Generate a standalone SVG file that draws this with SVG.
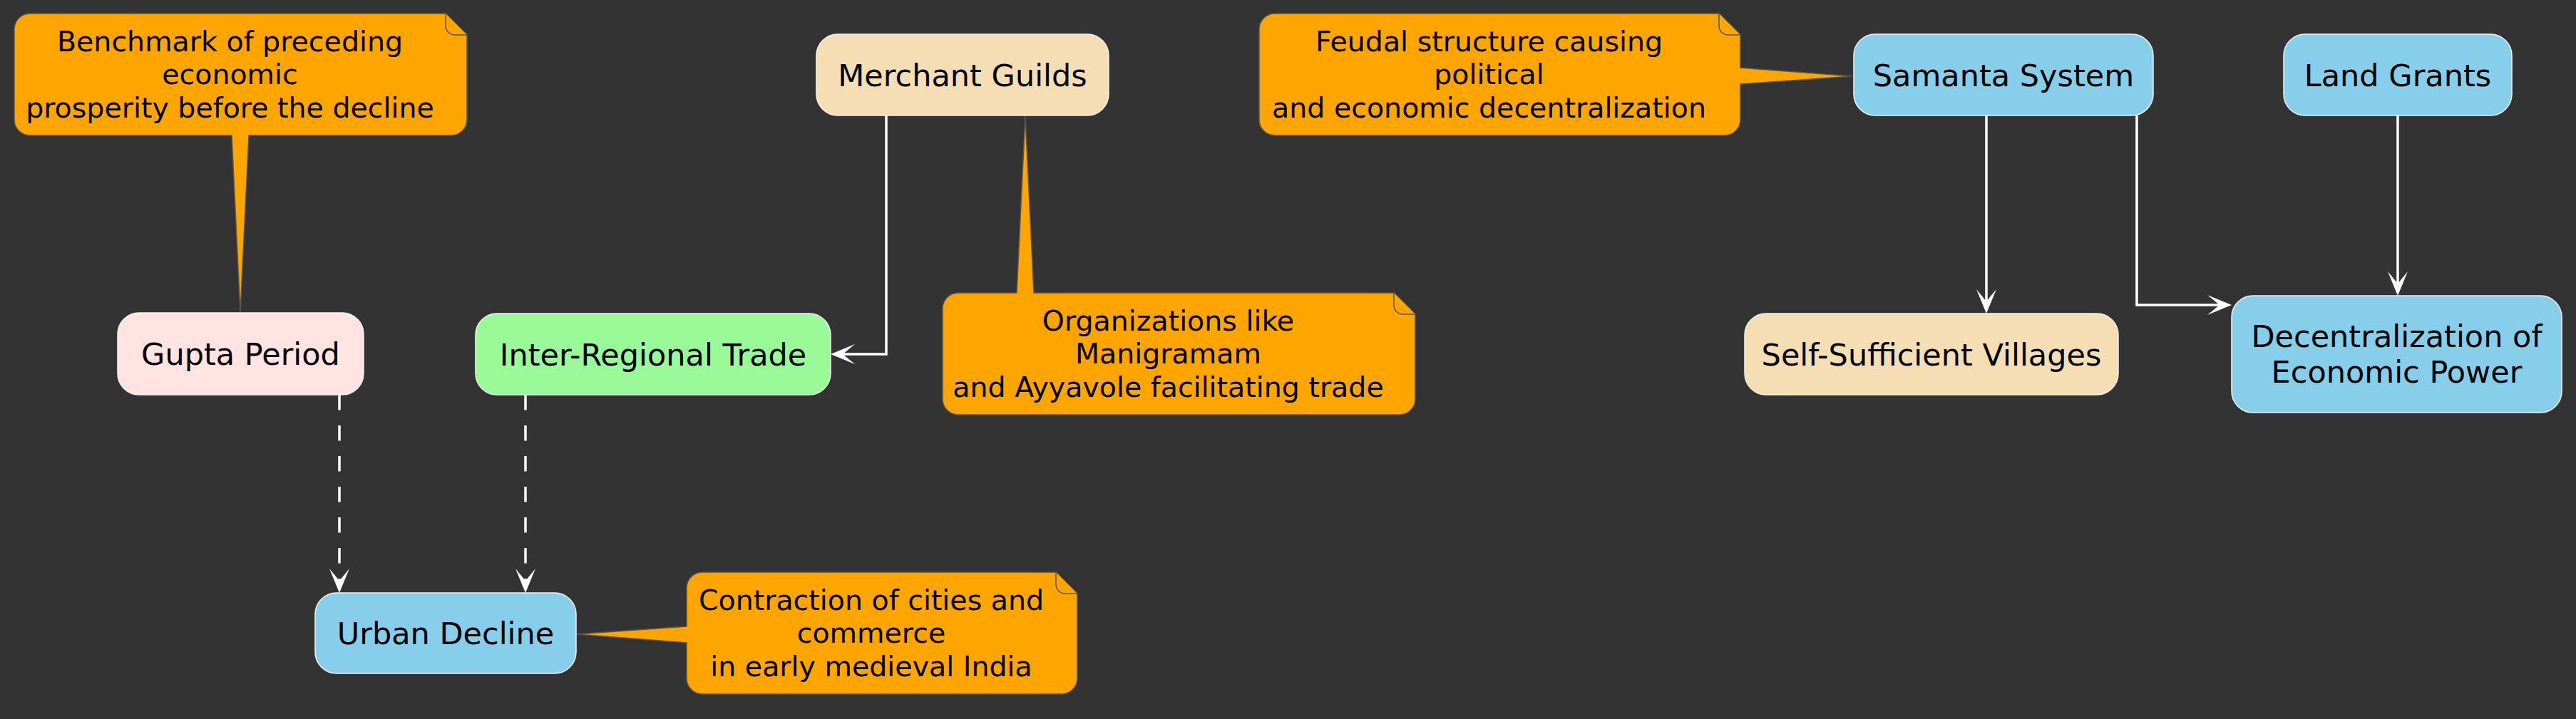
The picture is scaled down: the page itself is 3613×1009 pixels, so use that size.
<svg xmlns="http://www.w3.org/2000/svg" width="3613" height="1009" viewBox="0 0 3613 1009">
<defs>
<style>
.note{fill:#FFA500;stroke:#555555;stroke-width:1.5}
.fold{fill:#FFA500;stroke:#555555;stroke-width:1.5}
.node{stroke:#f4f4f4;stroke-width:1.5}
.edge{fill:none;stroke:#ffffff;stroke-width:3.5}
.dash{stroke-dasharray:21.5 21.5}
.nt{font-family:"DejaVu Sans","Liberation Sans",sans-serif;font-size:43px;fill:#000000;text-anchor:middle}
.tt{font-family:"DejaVu Sans","Liberation Sans",sans-serif;font-size:39.5px;fill:#000000;text-anchor:middle}
</style>
<marker id="ah" markerUnits="userSpaceOnUse" viewBox="-19 -16 40 32" refX="0" refY="0" markerWidth="40" markerHeight="32" orient="auto">
<path d="M17,0 L-17,-14 L0,0 L-17,14 Z" fill="#ffffff"/>
</marker>
</defs>
<rect x="0" y="0" width="3613" height="1009" fill="#333333"/>

<g id="connectors">
<path class="edge" d="M1243,162 L1243,497 L1182,497" marker-end="url(#ah)"/>
<path class="edge dash" d="M476,554 L476,815" marker-end="url(#ah)"/>
<path class="edge dash" d="M737,554 L737,815" marker-end="url(#ah)"/>
<path class="edge" d="M2786,162 L2786,423" marker-end="url(#ah)"/>
<path class="edge" d="M2997,162 L2997,428 L3113,428" marker-end="url(#ah)"/>
<path class="edge" d="M3363,162 L3363,398" marker-end="url(#ah)"/>
</g>

<g id="note-benchmark">
<path class="note" d="M42,19 L625,19 L655,49 L655,168 A22,22 0 0 1 633,190 L349,190 L337,439 L325,190 L42,190 A22,22 0 0 1 20,168 L20,41 A22,22 0 0 1 42,19 Z"/>
<path class="fold" d="M625,19 L625,36 A13,13 0 0 0 638,49 L655,49"/>
<text class="tt" x="322.5" y="71.5">Benchmark of preceding</text>
<text class="tt" x="322.5" y="118">economic</text>
<text class="tt" x="322.5" y="164.5">prosperity before the decline</text>
</g>

<g id="note-organizations">
<path class="note" d="M1344,411 L1426,411 L1438,162 L1450,411 L1955,411 L1985,441 L1985,560 A22,22 0 0 1 1963,582 L1344,582 A22,22 0 0 1 1322,560 L1322,433 A22,22 0 0 1 1344,411 Z"/>
<path class="fold" d="M1955,411 L1955,428 A13,13 0 0 0 1968,441 L1985,441"/>
<text class="tt" x="1638.5" y="463.5">Organizations like</text>
<text class="tt" x="1638.5" y="510">Manigramam</text>
<text class="tt" x="1638.5" y="556.5">and Ayyavole facilitating trade</text>
</g>

<g id="note-feudal">
<path class="note" d="M1788,19 L2411,19 L2441,49 L2441,95 L2598,107 L2441,118 L2441,168 A22,22 0 0 1 2419,190 L1788,190 A22,22 0 0 1 1766,168 L1766,41 A22,22 0 0 1 1788,19 Z"/>
<path class="fold" d="M2411,19 L2411,36 A13,13 0 0 0 2424,49 L2441,49"/>
<text class="tt" x="2088.5" y="71.5">Feudal structure causing</text>
<text class="tt" x="2088.5" y="118">political</text>
<text class="tt" x="2088.5" y="164.5">and economic decentralization</text>
</g>

<g id="note-contraction">
<path class="note" d="M985,803 L1481,803 L1511,833 L1511,952 A22,22 0 0 1 1489,974 L985,974 A22,22 0 0 1 963,952 L963,902 L809,890 L963,879 L963,825 A22,22 0 0 1 985,803 Z"/>
<path class="fold" d="M1481,803 L1481,820 A13,13 0 0 0 1494,833 L1511,833"/>
<text class="tt" x="1222" y="855.5">Contraction of cities and</text>
<text class="tt" x="1222" y="902">commerce</text>
<text class="tt" x="1222" y="948.5">in early medieval India</text>
</g>

<g id="gupta-period">
<rect class="node" x="165" y="439" width="345" height="115" rx="30" ry="30" fill="#FFE4E1"/>
<text class="nt" x="337.5" y="512">Gupta Period</text>
</g>

<g id="merchant-guilds">
<rect class="node" x="1145" y="48" width="410" height="114" rx="30" ry="30" fill="#F5DEB3"/>
<text class="nt" x="1350" y="120.5">Merchant Guilds</text>
</g>

<g id="inter-regional-trade">
<rect class="node" x="667" y="440" width="498" height="114" rx="30" ry="30" fill="#98FB98"/>
<text class="nt" x="916" y="512.5">Inter-Regional Trade</text>
</g>

<g id="urban-decline">
<rect class="node" x="442" y="832" width="366" height="113" rx="30" ry="30" fill="#87CEEB"/>
<text class="nt" x="625" y="904">Urban Decline</text>
</g>

<g id="samanta-system">
<rect class="node" x="2600" y="48" width="420" height="114" rx="30" ry="30" fill="#87CEEB"/>
<text class="nt" x="2810" y="120.5">Samanta System</text>
</g>

<g id="land-grants">
<rect class="node" x="3203" y="48" width="320" height="114" rx="30" ry="30" fill="#87CEEB"/>
<text class="nt" x="3363" y="120.5">Land Grants</text>
</g>

<g id="self-sufficient-villages">
<rect class="node" x="2447" y="440" width="524" height="114" rx="30" ry="30" fill="#F5DEB3"/>
<text class="nt" x="2709" y="512.5">Self-Sufficient Villages</text>
</g>

<g id="decentralization">
<rect class="node" x="3130" y="415" width="463" height="164" rx="30" ry="30" fill="#87CEEB"/>
<text class="nt" x="3361.5" y="487">Decentralization of</text>
<text class="nt" x="3361.5" y="537">Economic Power</text>
</g>
</svg>
